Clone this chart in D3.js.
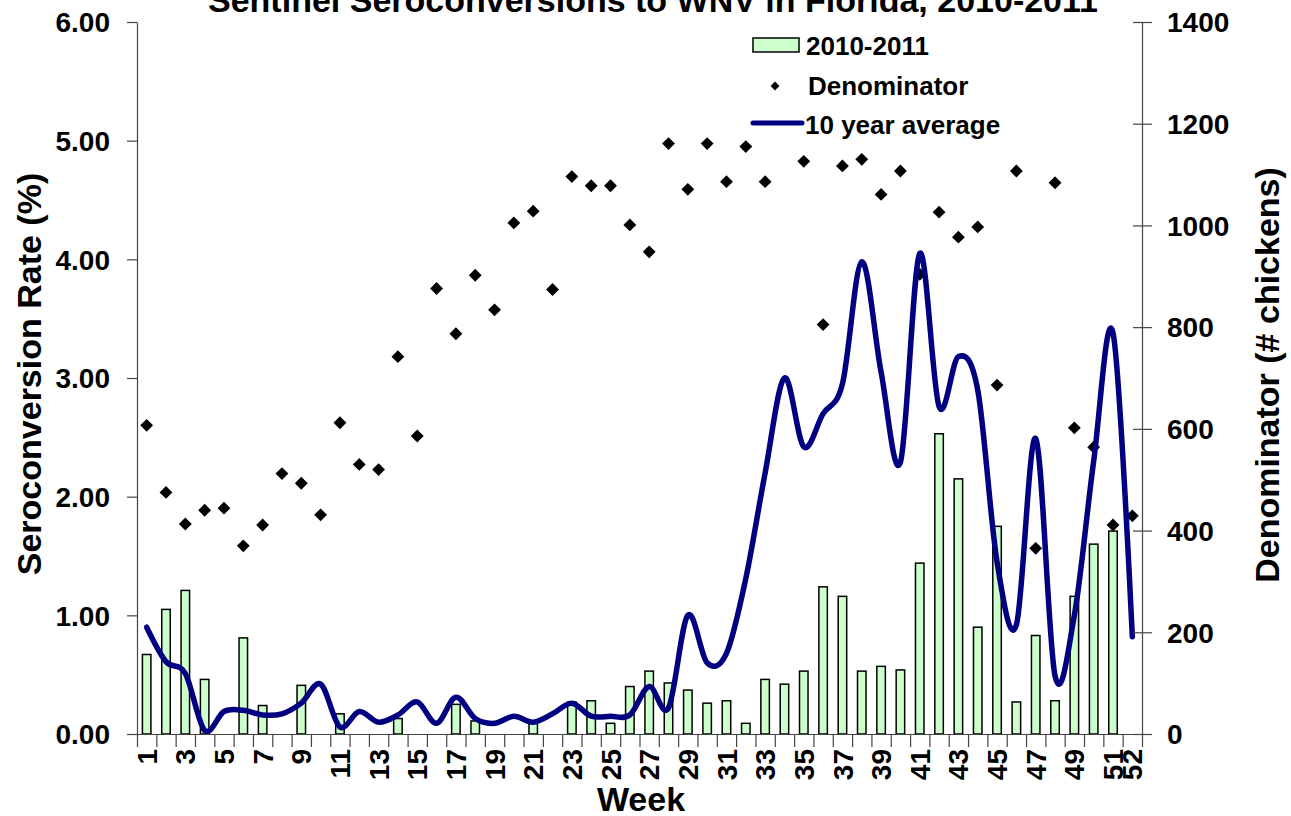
<!DOCTYPE html>
<html>
<head>
<meta charset="utf-8">
<script src="https://cdn.jsdelivr.net/npm/d3@7"></script>
<style>
  html, body { margin: 0; padding: 0; background: #fff; }
  svg text { font-family: "Liberation Sans", Arial, sans-serif; font-weight: bold; fill: #000; }
</style>
</head>
<body>
<svg id="chart" width="1291" height="816"></svg>
<script>
const weeks = [1,2,3,4,5,6,7,8,9,10,11,12,13,14,15,16,17,18,19,20,21,22,23,24,25,26,
               27,28,29,30,31,32,33,34,35,36,37,38,39,40,41,42,43,44,45,46,47,48,49,50,51,52];
const weekLabels = [1,3,5,7,9,11,13,15,17,19,21,23,25,27,29,31,33,35,37,39,41,43,45,47,49,51,52];

// 2010-2011 seroconversion rate (%)
const rate2010 = [0.67,1.05,1.21,0.46,null,0.81,0.24,null,0.41,null,0.17,null,null,0.13,null,null,
                  0.25,0.11,null,null,0.10,null,0.27,0.28,0.09,0.40,0.53,0.43,0.37,0.26,0.28,0.09,
                  0.46,0.42,0.53,1.24,1.16,0.53,0.57,0.54,1.44,2.53,2.15,0.90,1.75,0.27,0.83,0.28,
                  1.16,1.60,1.71,null];

// Denominator (# chickens)
const denominator = [607,475,413,440,444,370,411,512,493,431,612,530,520,742,586,876,787,902,834,
                     1005,1028,874,1096,1078,1078,1001,948,1161,1071,1161,1086,1155,1086,null,1126,
                     805,1117,1130,1061,1107,904,1026,977,997,686,1107,365,1084,602,564,411,429];

// 10 year average (%)
const avg10 = [0.90,0.61,0.51,0.03,0.19,0.20,0.16,0.17,0.26,0.42,0.06,0.19,0.10,0.16,0.27,0.09,
               0.31,0.13,0.09,0.15,0.10,0.17,0.26,0.15,0.15,0.16,0.40,0.22,1.00,0.60,0.68,1.31,
               2.20,3.00,2.42,2.70,2.95,3.98,3.05,2.29,4.05,2.76,3.18,2.90,1.45,0.92,2.49,0.49,
               1.00,2.30,3.38,0.82];

const leftTicks = [0,1,2,3,4,5,6];
const rightTicks = [0,200,400,600,800,1000,1200,1400];

const svg = d3.select("#chart");
const L = 137, R = 1142, T = 22, B = 734;

const x = d3.scaleBand().domain(weeks).range([L, R]).padding(0);
const xl = d3.scaleLinear().domain([0, 52]).range([L, R]);
const yL = d3.scaleLinear().domain([0, 6]).range([B, T]);
const yR = d3.scaleLinear().domain([0, 1400]).range([B, T]);
const bw = x.bandwidth() * 0.44;
const axisColor = "#444";

// Bars
svg.append("g").selectAll("rect")
  .data(weeks.map((w, i) => ({w, v: rate2010[i]})).filter(d => d.v != null))
  .join("rect")
  .attr("x", d => x(d.w) + (x.bandwidth() - bw) / 2)
  .attr("y", d => yL(d.v))
  .attr("width", bw)
  .attr("height", d => B - yL(d.v))
  .attr("fill", "#ccffcc")
  .attr("stroke", "#000")
  .attr("stroke-width", 1.5);

// Denominator diamonds
const diamond = d3.symbol().type(d3.symbolDiamond2).size(105);
svg.append("g").selectAll("path")
  .data(weeks.map((w, i) => ({w, v: denominator[i]})).filter(d => d.v != null))
  .join("path")
  .attr("d", diamond)
  .attr("transform", d => `translate(${x(d.w) + x.bandwidth() / 2},${yR(d.v)})`)
  .attr("fill", "#000");

// 10 year average line
const line = d3.line()
  .x((d, i) => x(weeks[i]) + x.bandwidth() / 2)
  .y(d => yL(d))
  .curve(d3.curveCardinal.tension(0));
svg.append("path")
  .datum(avg10)
  .attr("d", line)
  .attr("fill", "none")
  .attr("stroke", "#000080")
  .attr("stroke-width", 5.5)
  .attr("stroke-linejoin", "round")
  .attr("stroke-linecap", "round");

// Left axis
const gL = svg.append("g").attr("transform", `translate(${L},0)`)
  .call(d3.axisLeft(yL).tickValues(leftTicks).tickFormat(d3.format(".2f")).tickSize(10).tickSizeOuter(0).tickPadding(17));
gL.selectAll("text").style("font-size", "28px").attr("dy", "0.35em");
gL.selectAll("line, path").attr("stroke", axisColor).attr("stroke-width", 1.2);

// Right axis
const gR = svg.append("g").attr("transform", `translate(${R},0)`)
  .call(d3.axisRight(yR).tickValues(rightTicks).tickFormat(d3.format("d")).tickSize(10).tickSizeOuter(0).tickPadding(15));
gR.selectAll(".tick line").attr("x1", -9);
gR.selectAll("text").style("font-size", "28px").attr("dy", "0.35em");
gR.selectAll("line, path").attr("stroke", axisColor).attr("stroke-width", 1.2);

// Bottom axis: ticks at category boundaries
const gB = svg.append("g").attr("transform", `translate(0,${B})`)
  .call(d3.axisBottom(xl).tickValues(d3.range(0, 53)).tickFormat("").tickSize(13).tickSizeOuter(0));
gB.selectAll("line, path").attr("stroke", axisColor).attr("stroke-width", 1.2);

// Bottom labels
const gBL = svg.append("g").attr("transform", `translate(0,${B})`)
  .call(d3.axisBottom(x).tickValues(weekLabels).tickSize(0));
gBL.select(".domain").remove();
gBL.selectAll("text")
  .style("font-size", "28px")
  .attr("text-anchor", "end")
  .attr("transform", "rotate(-90)")
  .attr("x", -15).attr("y", 0).attr("dy", "0.36em");

// Titles
svg.append("text").attr("x", 653).attr("y", 12).attr("text-anchor", "middle")
  .style("font-size", "34px").text("Sentinel Seroconversions to WNV in Florida, 2010-2011");
svg.append("text").attr("x", 641).attr("y", 811).attr("text-anchor", "middle")
  .style("font-size", "34px").text("Week");
svg.append("text").attr("transform", "translate(29,374) rotate(-90)").attr("dy", "0.36em")
  .attr("text-anchor", "middle").style("font-size", "34px").text("Seroconversion Rate (%)");
svg.append("text").attr("transform", "translate(1267,375) rotate(-90)").attr("dy", "0.36em")
  .attr("text-anchor", "middle").style("font-size", "34px").text("Denominator (# chickens)");

// Legend
const lg = svg.append("g");
lg.append("rect").attr("x", 753).attr("y", 38).attr("width", 46).attr("height", 14)
  .attr("fill", "#ccffcc").attr("stroke", "#000").attr("stroke-width", 1.5);
lg.append("text").attr("x", 806).attr("y", 46).attr("dy", "0.36em").style("font-size", "26px").text("2010-2011");
lg.append("path").attr("d", d3.symbol().type(d3.symbolDiamond2).size(50))
  .attr("transform", "translate(775,86)").attr("fill", "#000");
lg.append("text").attr("x", 808).attr("y", 86).attr("dy", "0.36em").style("font-size", "26px").text("Denominator");
lg.append("line").attr("x1", 753).attr("x2", 802).attr("y1", 123).attr("y2", 123)
  .attr("stroke", "#000080").attr("stroke-width", 5).attr("stroke-linecap", "round");
lg.append("text").attr("x", 805).attr("y", 125).attr("dy", "0.36em").style("font-size", "26px").text("10 year average");
</script>
</body>
</html>
